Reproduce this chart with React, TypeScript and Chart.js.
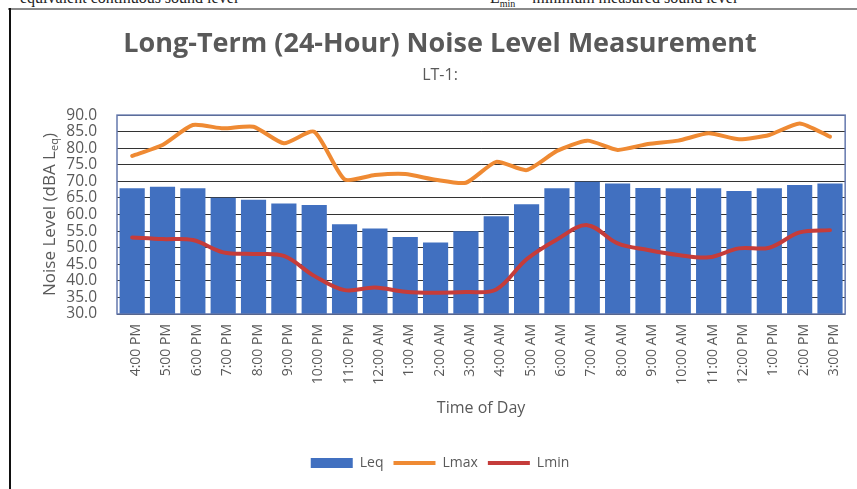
import React, { useEffect, useRef } from "react";
import { Chart, registerables } from "chart.js";

Chart.register(...registerables);

const timeLabels = [
  "4:00 PM", "5:00 PM", "6:00 PM", "7:00 PM", "8:00 PM", "9:00 PM", "10:00 PM", "11:00 PM",
  "12:00 AM", "1:00 AM", "2:00 AM", "3:00 AM", "4:00 AM", "5:00 AM", "6:00 AM", "7:00 AM",
  "8:00 AM", "9:00 AM", "10:00 AM", "11:00 AM", "12:00 PM", "1:00 PM", "2:00 PM", "3:00 PM",
];

const leqValues = [
  67.9, 68.4, 67.9, 65.1, 64.5, 63.3, 62.9, 57.1,
  55.8, 53.2, 51.6, 55.0, 59.5, 63.1, 67.9, 69.9,
  69.4, 68.0, 67.9, 67.9, 67.1, 67.9, 68.9, 69.4,
];

const lmaxValues = [
  77.7, 81.0, 87.0, 86.0, 86.5, 81.5, 85.0, 70.6,
  71.9, 72.2, 70.5, 69.6, 75.9, 73.4, 79.2, 82.3,
  79.5, 81.3, 82.3, 84.5, 82.7, 84.0, 87.5, 83.5,
];

const lminValues = [
  53.1, 52.6, 52.3, 48.6, 48.1, 47.5, 41.5, 37.2,
  38.0, 36.7, 36.4, 36.6, 37.4, 46.5, 52.5, 56.8,
  51.3, 49.3, 47.8, 47.1, 49.8, 50.0, 54.6, 55.3,
];

const yTickValues = [30, 35, 40, 45, 50, 55, 60, 65, 70, 75, 80, 85, 90];

const TEXT = "#595959";
const FONT = "'Open Sans', 'DejaVu Sans', sans-serif";
const LEQ_COLOR = "#4170c0";
const LMAX_COLOR = "#ef8a33";
const LMIN_COLOR = "#c53c3a";
const SERIES_COLORS = [LEQ_COLOR, LMAX_COLOR, LMIN_COLOR];

const yTitlePlugin = {
  id: "yTitleSub",
  afterDraw(chart: any) {
    const ctx = chart.ctx;
    const { top, bottom } = chart.chartArea;
    ctx.save();
    ctx.translate(50, (top + bottom) / 2);
    ctx.rotate(-Math.PI / 2);
    const main = `17px ${FONT}`;
    const sub = `11px ${FONT}`;
    ctx.font = main;
    const w1 = ctx.measureText("Noise Level (dBA L").width;
    const w3 = ctx.measureText(")").width;
    ctx.font = sub;
    const w2 = ctx.measureText("eq").width;
    let x = -(w1 + w2 + w3) / 2;
    ctx.fillStyle = TEXT;
    ctx.textBaseline = "middle";
    ctx.textAlign = "left";
    ctx.font = main;
    ctx.fillText("Noise Level (dBA L", x, 0);
    x += w1;
    ctx.font = sub;
    ctx.fillText("eq", x, 5);
    x += w2;
    ctx.font = main;
    ctx.fillText(")", x, 0);
    ctx.restore();
  },
};

const framePlugin = {
  id: "plotFrame",
  afterDatasetsDraw(chart: any) {
    const { left, right, top, bottom } = chart.chartArea;
    const ctx = chart.ctx;
    ctx.save();
    ctx.strokeStyle = "#6478ad";
    ctx.lineWidth = 1.5;
    ctx.strokeRect(left, top, right - left, bottom - top);
    ctx.restore();
  },
};

export default function App() {
  const canvasRef = useRef<HTMLCanvasElement | null>(null);

  useEffect(() => {
    if (!canvasRef.current) return;
    const chart = new Chart(canvasRef.current, {
      type: "bar",
      data: {
        labels: timeLabels,
        datasets: [
          {
            type: "bar",
            label: "Leq",
            data: leqValues,
            backgroundColor: LEQ_COLOR,
            borderWidth: 0,
            barPercentage: 0.83,
            categoryPercentage: 1,
            order: 3,
          },
          {
            type: "line",
            label: "Lmax",
            data: lmaxValues,
            borderColor: LMAX_COLOR,
            backgroundColor: LMAX_COLOR,
            borderWidth: 4,
            pointRadius: 0,
            tension: 0.2,
            borderCapStyle: "round",
            borderJoinStyle: "round",
            order: 1,
          },
          {
            type: "line",
            label: "Lmin",
            data: lminValues,
            borderColor: LMIN_COLOR,
            backgroundColor: LMIN_COLOR,
            borderWidth: 4,
            pointRadius: 0,
            tension: 0.35,
            borderCapStyle: "round",
            borderJoinStyle: "round",
            order: 2,
          },
        ],
      } as any,
      options: {
        responsive: false,
        animation: false,
        layout: { padding: { left: 33, right: 10, top: 0, bottom: 9 } },
        plugins: {
          tooltip: { enabled: false },
          title: {
            display: true,
            text: "Long-Term (24-Hour) Noise Level Measurement",
            color: TEXT,
            font: { family: FONT, size: 27, weight: "bold" },
            padding: { top: 28, bottom: 0 },
          },
          subtitle: {
            display: true,
            text: "LT-1:",
            color: TEXT,
            font: { family: FONT, size: 16 },
            padding: { top: 5.5, bottom: 30 },
          },
          legend: {
            position: "bottom",
            labels: {
              usePointStyle: true,
              pointStyleWidth: 42,
              boxHeight: 10,
              color: TEXT,
              font: { family: FONT, size: 14 },
              padding: 10,
              sort: (a: any, b: any) => a.datasetIndex - b.datasetIndex,
              generateLabels(c: any) {
                const items = Chart.defaults.plugins.legend.labels.generateLabels(c);
                return items.map((it: any) => {
                  const di = it.datasetIndex;
                  const col = SERIES_COLORS[di];
                  if (di === 0) {
                    return { ...it, pointStyle: "rect", lineWidth: 0, fillStyle: col, strokeStyle: col };
                  }
                  return { ...it, pointStyle: "line", lineWidth: 4, strokeStyle: col, fillStyle: col };
                });
              },
            },
          },
        },
        scales: {
          x: {
            grid: { display: false, drawTicks: false },
            border: { display: false },
            ticks: {
              color: TEXT,
              font: { family: FONT, size: 14 },
              maxRotation: 90,
              minRotation: 90,
              padding: 10,
              labelOffset: 4,
              autoSkip: false,
            },
            title: {
              display: true,
              text: "Time of Day",
              color: TEXT,
              font: { family: FONT, size: 16 },
              padding: { top: 0, bottom: 28.4 },
            },
            afterFit(scale: any) {
              scale.height = 132;
            },
          },
          y: {
            min: 30,
            max: 90,
            afterBuildTicks(scale: any) {
              scale.ticks = yTickValues.map((v) => ({ value: v }));
            },
            ticks: {
              color: TEXT,
              font: { family: FONT, size: 15.5 },
              padding: 20,
              autoSkip: false,
              callback: (v: any) => Number(v).toFixed(1),
            },
            grid: { color: "#333333", lineWidth: 1, drawTicks: false },
            border: { display: false },
            afterFit(scale: any) {
              scale.width = 84;
            },
          },
        },
      } as any,
      plugins: [yTitlePlugin, framePlugin],
    });
    return () => chart.destroy();
  }, []);

  return (
    <div
      style={{
        position: "fixed",
        left: 0,
        top: 0,
        width: 857,
        height: 489,
        overflow: "hidden",
        background: "#ffffff",
      }}
    >
      <div
        style={{
          position: "absolute",
          left: 20,
          top: -10,
          fontFamily: "'Liberation Serif', serif",
          fontSize: 16,
          lineHeight: "16px",
          color: "#222",
          whiteSpace: "nowrap",
        }}
      >
        equivalent continuous sound level
      </div>
      <div
        style={{
          position: "absolute",
          left: 490,
          top: -10,
          fontFamily: "'Liberation Serif', serif",
          fontSize: 16,
          lineHeight: "16px",
          color: "#222",
          whiteSpace: "nowrap",
        }}
      >
        L<sub style={{ fontSize: 10 }}>min</sub> = minimum measured sound level
      </div>
      <div style={{ position: "absolute", left: 8, top: 8, width: 849, height: 2, background: "#8a8a8a" }} />
      <div style={{ position: "absolute", left: 9, top: 8, width: 2, height: 481, background: "#111" }} />
      <canvas
        ref={canvasRef}
        width={857}
        height={489}
        style={{ position: "absolute", left: 0, top: 0, width: 857, height: 489 }}
      />
    </div>
  );
}
